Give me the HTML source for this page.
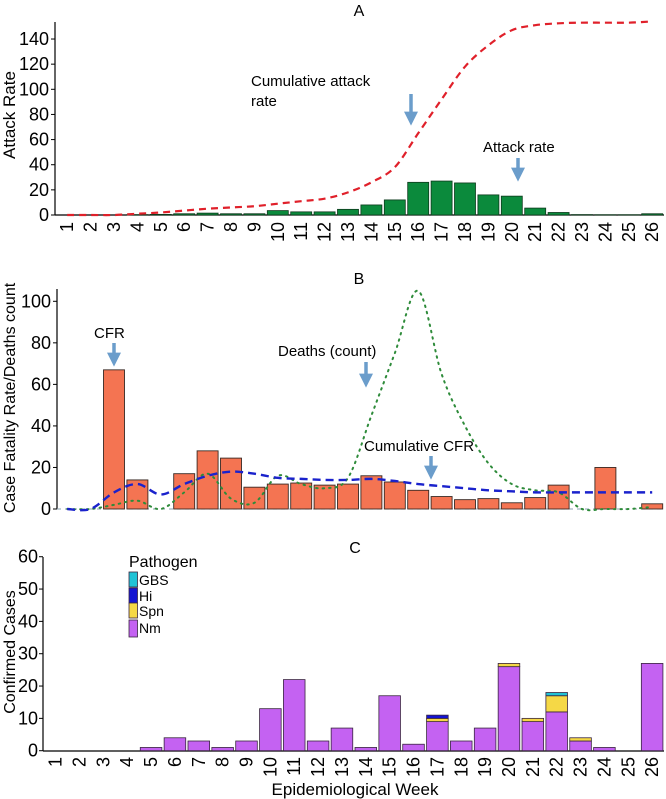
<!DOCTYPE html>
<html><head><meta charset="utf-8"><style>
html,body{margin:0;padding:0;background:#fff;}
svg{display:block;font-family:"Liberation Sans Narrow","Liberation Sans",sans-serif;}
</style></head><body>
<svg id="c" width="666" height="799" viewBox="0 0 666 799" xmlns="http://www.w3.org/2000/svg">
<defs>
<marker id="ah" viewBox="0 0 10 10" refX="6" refY="5" markerWidth="4" markerHeight="4" orient="auto"><path d="M0,0 L10,5 L0,10 z" fill="#6b9dcb"/></marker>
</defs>
</svg>
<script>
const weeks=[1,2,3,4,5,6,7,8,9,10,11,12,13,14,15,16,17,18,19,20,21,22,23,24,25,26];
const attackRate=[0,0,0,0.3,0.5,1,1.5,1,1,3.5,2.5,2.5,4.5,8,12,26,27,25.5,16,15,5.5,2,0.3,0.2,0.2,1];
const cumAttack=[0,0,0,1,2,3.5,5,6,7,9,11,13,18,26,38,65,92,118,135,147,151,152.5,153,153,153,154];
const ticksA=[0,20,40,60,80,100,120,140];
const cfr=[0,0,67,14,0,17,28,24.5,10.5,12,12.5,11.5,12,16,13,9,6,4.5,5,3,5.5,11.5,0,20,0,2.5];
const deaths=[0,0,2,4,0,8,17,5,3,16,12,10,15,45,75,105,65,40,22,12,9,8,0,0,0,1];
const cumCfr=[0,0,8,12,7,12,16,18,17,15,14.5,14,14,14.5,13.5,12,11,10,9,8.5,8,8,8,8,8,8];
const ticksB=[0,20,40,60,80,100];
const nm=[0,0,0,0,1,4,3,1,3,13,22,3,7,1,17,2,9,3,7,26,9,12,3,1,0,27];
const spn=[0,0,0,0,0,0,0,0,0,0,0,0,0,0,0,0,1,0,0,1,1,5,1,0,0,0];
const hi=[0,0,0,0,0,0,0,0,0,0,0,0,0,0,0,0,1,0,0,0,0,0,0,0,0,0];
const gbs=[0,0,0,0,0,0,0,0,0,0,0,0,0,0,0,0,0,0,0,0,0,1,0,0,0,0];
const ticksC=[0,10,20,30,40,50,60];

const svg=document.getElementById('c');
const NS='http://www.w3.org/2000/svg';
function mk(tag,attrs,parent){const e=document.createElementNS(NS,tag);for(const k in attrs)e.setAttribute(k,attrs[k]);(parent||svg).appendChild(e);return e;}
function txt(s,attrs,parent){const e=mk('text',attrs,parent);e.textContent=s;return e;}
function smooth(pts){let d='M'+pts[0][0]+','+pts[0][1];for(let i=0;i<pts.length-1;i++){const p0=pts[Math.max(i-1,0)],p1=pts[i],p2=pts[i+1],p3=pts[Math.min(i+2,pts.length-1)];const c1=[p1[0]+(p2[0]-p0[0])/6,p1[1]+(p2[1]-p0[1])/6],c2=[p2[0]-(p3[0]-p1[0])/6,p2[1]-(p3[1]-p1[1])/6];d+=' C'+c1[0]+','+c1[1]+' '+c2[0]+','+c2[1]+' '+p2[0]+','+p2[1];}return d;}

// ---------- Panel A ----------
const gA=mk('g',{});


const xA=i=>55.5+23.4*(i+0.5);
const yA=v=>215-v*1.257;
txt('A',{x:359,y:16,'font-size':16,'text-anchor':'middle'},gA);
mk('line',{x1:55,y1:22,x2:55,y2:215,stroke:'#000','stroke-width':1.2},gA);
mk('line',{x1:55,y1:215,x2:664,y2:215,stroke:'#000','stroke-width':1.2},gA);
ticksA.forEach(t=>{mk('line',{x1:51,x2:55,y1:yA(t),y2:yA(t),stroke:'#000'},gA);const l=txt(String(t),{x:49,y:yA(t)+6,'font-size':18,'text-anchor':'end'},gA);});
const ta=txt('Attack Rate',{transform:'translate(15,115) rotate(-90)','font-size':17,'text-anchor':'middle','font-family':'Liberation Sans, sans-serif'},gA);


weeks.forEach((w,i)=>{
  const h=attackRate[i]*1.257;
  if(h>0){const r=mk('rect',{x:xA(i)-10.5,y:yA(attackRate[i]),width:21,height:h,fill:'#0b8a3c',stroke:'#0d3a1c','stroke-width':0.8},gA);
  
  }
  const l=txt(String(w),{transform:`translate(${xA(i)+6},222) rotate(-90)`,'font-size':18,'text-anchor':'end'},gA);
  
  
});
const lA=mk('path',{d:smooth(cumAttack.map((v,i)=>[xA(i),yA(v)])),fill:'none',stroke:'#e0202a','stroke-width':2.2,'stroke-dasharray':'7,5'},gA);


txt('Cumulative attack',{x:251,y:86,'font-size':15,'font-family':'Liberation Sans, sans-serif'},gA);
txt('rate',{x:251,y:106,'font-size':15,'font-family':'Liberation Sans, sans-serif'},gA);
mk('line',{x1:411,y1:94,x2:411,y2:120,stroke:'#6b9dcb','stroke-width':3.5,'marker-end':'url(#ah)'},gA);
txt('Attack rate',{x:483,y:152,'font-size':15,'font-family':'Liberation Sans, sans-serif'},gA);
mk('line',{x1:518,y1:158,x2:518,y2:176,stroke:'#6b9dcb','stroke-width':3.5,'marker-end':'url(#ah)'},gA);

// ---------- Panel B ----------
const gB=mk('g',{});


const yB=v=>509-v*2.077;
txt('B',{x:359,y:284,'font-size':16,'text-anchor':'middle'},gB);
mk('line',{x1:57,y1:289,x2:57,y2:509,stroke:'#000','stroke-width':1.2},gB);
ticksB.forEach(t=>{mk('line',{x1:53,x2:57,y1:yB(t),y2:yB(t),stroke:'#000'},gB);const l=txt(String(t),{x:51,y:yB(t)+6,'font-size':18,'text-anchor':'end'},gB);});
const tb=txt('Case Fatality Rate/Deaths count',{transform:'translate(15,398) rotate(-90)','font-size':16,'text-anchor':'middle','font-family':'Liberation Sans, sans-serif'},gB);


mk('line',{x1:57,y1:509,x2:664,y2:509,stroke:'#8aa0b0','stroke-width':1,'stroke-dasharray':'4,4'},gB);
weeks.forEach((w,i)=>{
  if(cfr[i]>0){const r=mk('rect',{x:xA(i)-10.5,y:yB(cfr[i]),width:21,height:cfr[i]*2.077,fill:'#f47452',stroke:'#3a2a24','stroke-width':0.9},gB);
  
  }
});
const dl=mk('path',{d:smooth(deaths.map((v,i)=>[xA(i),yB(v)])),fill:'none',stroke:'#2e8b3a','stroke-width':2,'stroke-dasharray':'1.5,5','stroke-linecap':'round'},gB);


const cl=mk('path',{d:smooth(cumCfr.map((v,i)=>[xA(i),yB(v)])),fill:'none',stroke:'#1a22cc','stroke-width':2.4,'stroke-dasharray':'8,5'},gB);


txt('CFR',{x:94,y:338,'font-size':15,'font-family':'Liberation Sans, sans-serif'},gB);
mk('line',{x1:114,y1:343,x2:114,y2:361,stroke:'#6b9dcb','stroke-width':3.5,'marker-end':'url(#ah)'},gB);
txt('Deaths (count)',{x:278,y:356,'font-size':15,'font-family':'Liberation Sans, sans-serif'},gB);
mk('line',{x1:366,y1:362,x2:366,y2:382,stroke:'#6b9dcb','stroke-width':3.5,'marker-end':'url(#ah)'},gB);
txt('Cumulative CFR',{x:364,y:451,'font-size':15,'font-family':'Liberation Sans, sans-serif'},gB);
mk('line',{x1:431,y1:456,x2:431,y2:474,stroke:'#6b9dcb','stroke-width':3.5,'marker-end':'url(#ah)'},gB);

// ---------- Panel C ----------
const gC=mk('g',{});


const xC=i=>43.7+23.86*(i+0.5);
const yC=v=>750.7-v*3.233;
txt('C',{x:355,y:553,'font-size':16,'text-anchor':'middle'},gC);
mk('line',{x1:43,y1:557,x2:43,y2:751,stroke:'#000','stroke-width':1.2},gC);
mk('line',{x1:43,y1:751,x2:664,y2:751,stroke:'#000','stroke-width':1.2},gC);
ticksC.forEach(t=>{mk('line',{x1:39,x2:43,y1:yC(t),y2:yC(t),stroke:'#000'},gC);const l=txt(String(t),{x:38,y:yC(t)+6,'font-size':18,'text-anchor':'end'},gC);});
const tc=txt('Confirmed Cases',{transform:'translate(15,652) rotate(-90)','font-size':16,'text-anchor':'middle','font-family':'Liberation Sans, sans-serif'},gC);


const series=[[nm,'#c462f2','nm'],[spn,'#f5d846','spn'],[hi,'#1414d2','hi'],[gbs,'#20c2d6','gbs']];
weeks.forEach((w,i)=>{
  let base=0;
  series.forEach(([arr,col,nmn])=>{
    const v=arr[i];
    if(v>0){const r=mk('rect',{x:xC(i)-10.8,y:yC(base+v),width:21.6,height:v*3.233,fill:col,stroke:'#3a2640','stroke-width':0.8},gC);
    
    }
    base+=v;
  });
  const l=txt(String(w),{transform:`translate(${xC(i)+6},757) rotate(-90)`,'font-size':18,'text-anchor':'end'},gC);
  
  
});
const xt=txt('Epidemiological Week',{x:355,y:795,'font-size':17,'text-anchor':'middle','font-family':'Liberation Sans, sans-serif'},gC);


// legend
const lg=mk('g',{},gC);


txt('Pathogen',{x:129,y:567,'font-size':16,'font-family':'Liberation Sans, sans-serif'},lg);
[['GBS','#20c2d6',572],['Hi','#1414d2',588],['Spn','#f5d846',603],['Nm','#c462f2',620]].forEach(([n,c,y])=>{
  const e=mk('g',{},lg);
  
  
  mk('rect',{x:129,y:y,width:8.5,height:y===620?17:15,fill:c,stroke:'#3a2640','stroke-width':0.8},e);
  txt(n,{x:139,y:y+13,'font-size':14,'font-family':'Liberation Sans, sans-serif'},e);
});
</script>
</body></html>
